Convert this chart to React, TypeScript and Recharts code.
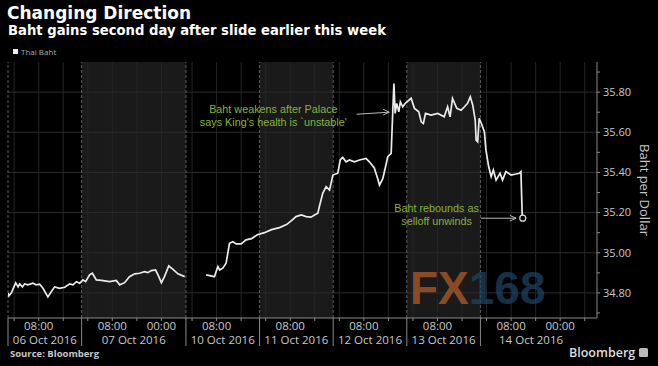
import React from 'react';
import { LineChart, Line, XAxis, YAxis, ReferenceArea, ReferenceLine, ReferenceDot } from 'recharts';

// x = trading hours (weekend compressed), 0 = 06 Oct 08:00
const hours = [
  -10, -9.7, -8.9, -7.5, -6.7, -6.2, -5.3, -4.6, -3.5, -1.9,
  -0.8, 0.3, 1.4, 3.0, 4.1, 5.2, 6.8, 8.5, 10.1, 11.2,
  12.3, 13.4, 14.4, 15.3, 16.6, 17.5, 18.8, 20.4, 23.1, 25.3,
  26.4, 28.0, 29.6, 31.3, 32.9, 34.5, 35.6, 36.7, 38.1, 38.9,
  40.0, 41.0, 42.4, 43.7, 45.4, 47.6,
  51,
  54.6, 57.3, 58.4, 59.0, 60.0, 61.1, 62.2, 63.3, 64.4, 66.0,
  67.6, 69.4, 71.3, 73.6, 75.9, 78.5, 80.8, 82.4, 83.9, 85.6,
  87.2, 88.8, 89.9, 91.0, 91.5, 92.6, 93.7, 94.8, 95.9, 97.5,
  98.3, 99.1, 100.2, 101.3, 102.9, 104.6, 106.7, 107.8, 109.4, 110.5,
  111.1, 112.2, 113.8, 114.9, 115.4, 115.8, 116.2, 116.7, 117.4, 117.9,
  118.7, 119.5, 121.4, 122.5, 123.9, 124.7, 125.4, 126.1, 127.9, 130.1,
  132.2, 133.3, 134.1, 134.9, 136.3, 137.7, 138.8, 139.8, 140.7, 141.5,
  142.3, 142.6, 143.1, 143.6, 144.5, 145.3, 145.8, 146.7, 147.5, 148.2,
  149.1, 150.4, 151.2, 152.3, 154.0, 155.6, 156.7, 157.2, 157.6, 157.8,
];

const baht: (number | null)[] = [
  34.80, 34.785, 34.80, 34.85, 34.83, 34.845, 34.83, 34.845, 34.84, 34.848,
  34.84, 34.843, 34.823, 34.78, 34.806, 34.83, 34.823, 34.828, 34.845, 34.84,
  34.856, 34.848, 34.865, 34.856, 34.89, 34.898, 34.865, 34.862, 34.856, 34.862,
  34.84, 34.851, 34.881, 34.895, 34.898, 34.906, 34.901, 34.911, 34.914, 34.89,
  34.851, 34.881, 34.934, 34.918, 34.895, 34.881,
  null,
  34.89, 34.881, 34.931, 34.914, 34.923, 34.948, 35.047, 35.055, 35.044, 35.044,
  35.064, 35.07, 35.09, 35.10, 35.115, 35.125, 35.14, 35.16, 35.18, 35.188,
  35.18, 35.177, 35.188, 35.197, 35.23, 35.296, 35.329, 35.312, 35.387, 35.396,
  35.462, 35.475, 35.453, 35.462, 35.453, 35.462, 35.47, 35.453, 35.422, 35.37,
  35.337, 35.37, 35.478, 35.495, 35.694, 35.843, 35.694, 35.744, 35.702, 35.752,
  35.727, 35.744, 35.769, 35.719, 35.702, 35.652, 35.644, 35.694, 35.686, 35.694,
  35.677, 35.727, 35.677, 35.769, 35.719, 35.71, 35.727, 35.744, 35.777, 35.735,
  35.66, 35.561, 35.553, 35.669, 35.636, 35.602, 35.511, 35.428, 35.379, 35.412,
  35.362, 35.396, 35.362, 35.404, 35.387, 35.392, 35.396, 35.404, 35.197, 35.172,
];

const dayBoundaries = [-10, 14, 48, 72, 96, 120, 144];
const shadedFrom = [14, 72, 120];
const shadedTo = [48, 96, 144];
const gridHours = [-8, 0, 8, 16, 24, 32, 40, 50, 58, 66, 74, 82, 90, 98, 106, 114, 122, 130, 138, 146, 154, 162, 170, 178];
const timeTicks = [0, 24, 40, 58, 82, 106, 130, 154, 170];
const timeLabels = ['08:00', '08:00', '00:00', '08:00', '08:00', '08:00', '08:00', '08:00', '00:00'];
const dateCenters = [2, 31, 60, 84, 108, 132, 160.5];
const dateLabels = ['06 Oct 2016', '07 Oct 2016', '10 Oct 2016', '11 Oct 2016', '12 Oct 2016', '13 Oct 2016', '14 Oct 2016'];
const yTicks = [34.7, 34.8, 34.9, 35.0, 35.1, 35.2, 35.3, 35.4, 35.5, 35.6, 35.7, 35.8, 35.9];
const yGrid = [34.8, 35.0, 35.2, 35.4, 35.6, 35.8];

const noteText = [
  ['Baht weakens after Palace', "says King's health is `unstable'"],
  ['Baht rebounds as', 'selloff unwinds'],
];
const noteH = [76.5, 129.7];
const noteV = [35.695, 35.203];
const arrowFromH = [103.6, 144.2];
const arrowFromV = [35.69, 35.172];
const arrowToH = [114.3, 155.6];
const arrowToV = [35.70, 35.172];

const data = hours.map((h, i) => ({ h, v: baht[i] }));
const allTicks = Array.from(new Set([...dayBoundaries, ...gridHours, ...timeTicks, ...dateCenters])).sort((a, b) => a - b);

const FONT = "'Open Sans', 'DejaVu Sans', sans-serif";
const HEAD = "'DejaVu Sans', 'Open Sans', sans-serif";
const NOTE = "'Liberation Sans', Arial, sans-serif";
const TXT = '#c8c8c8';
const GREEN = '#86b23a';

const XTick = (props: any) => {
  const { x, y, payload } = props;
  const v = payload.value;
  const ti = timeTicks.indexOf(v);
  const di = dateCenters.indexOf(v);
  return (
    <g>
      {dayBoundaries.includes(v) && <line x1={x} x2={x} y1={y} y2={y + 28} stroke="#8a8a8a" strokeWidth={1} />}
      {gridHours.includes(v) && <line x1={x} x2={x} y1={y} y2={y + 3} stroke="#8a8a8a" strokeWidth={1} />}
      {ti >= 0 && (
        <text x={x} y={y + 12} textAnchor="middle" fill={TXT} fontSize={11.5} fontFamily={FONT}>{timeLabels[ti]}</text>
      )}
      {di >= 0 && (
        <text x={x} y={y + 26} textAnchor="middle" fill={TXT} fontSize={11.5} fontFamily={FONT}>{dateLabels[di]}</text>
      )}
    </g>
  );
};

const yLabel = (props: any) => {
  const vb = props.viewBox;
  const cx = vb.x + 43;
  const cy = vb.y + vb.height / 2;
  return (
    <text x={cx} y={cy} transform={`rotate(90, ${cx}, ${cy})`} textAnchor="middle" fill={TXT} fontSize={13} fontFamily={FONT}>
      Baht per Dollar
    </text>
  );
};

const noteShape = (lines: string[]) => (p: any) => (
  <g>
    <text x={p.cx} y={p.cy} textAnchor="middle" fill={GREEN} fontSize={10.8} fontFamily={NOTE}>{lines[0]}</text>
    <text x={p.cx} y={p.cy + 12.6} textAnchor="middle" fill={GREEN} fontSize={10.8} fontFamily={NOTE}>{lines[1]}</text>
  </g>
);

export default function App() {
  const last = hours.length - 1;
  return (
    <div style={{ position: 'absolute', left: 0, top: 0, width: 658, height: 366, background: '#000', overflow: 'hidden' }}>
      <LineChart width={658} height={366} data={data} margin={{ top: 62, right: 0, bottom: 20, left: 8 }}>
        {shadedFrom.map((a, i) => (
          <ReferenceArea key={'s' + i} x1={a} x2={shadedTo[i]} fill="#1a1a1a" fillOpacity={1} stroke="none" />
        ))}
        {gridHours.map((g) => (
          <ReferenceLine key={'g' + g} x={g} stroke="#242424" strokeWidth={1} />
        ))}
        {yGrid.map((g) => (
          <ReferenceLine key={'y' + g} y={g} stroke="#2c2c2c" strokeWidth={1} />
        ))}
        {dayBoundaries.map((b) => (
          <ReferenceLine key={'b' + b} x={b} stroke="#5c5c5c" strokeDasharray="3 2" strokeWidth={1} />
        ))}
        <XAxis
          dataKey="h"
          type="number"
          domain={[-10, 182]}
          allowDataOverflow
          ticks={allTicks}
          interval={0}
          tickSize={0}
          tickMargin={0}
          tickLine={false}
          height={28}
          axisLine={{ stroke: '#8a8a8a' }}
          tick={<XTick />}
        />
        <YAxis
          orientation="right"
          type="number"
          domain={[34.675, 35.95]}
          allowDataOverflow
          ticks={yTicks}
          interval={0}
          width={61}
          tickSize={3}
          tickMargin={3}
          axisLine={{ stroke: '#8a8a8a' }}
          tickLine={{ stroke: '#8a8a8a' }}
          tick={{ fill: TXT, fontSize: 11, fontFamily: FONT }}
          tickFormatter={(v: number) => (Math.round(v * 10) % 2 === 0 ? v.toFixed(2) : '')}
          label={yLabel}
        />
        <Line
          type="linear"
          dataKey="v"
          stroke="#ebebeb"
          strokeWidth={1.7}
          dot={false}
          activeDot={false}
          connectNulls={false}
          isAnimationActive={false}
        />
        <ReferenceDot x={hours[last]} y={baht[last] as number} r={3} fill="#000" stroke="#dddddd" strokeWidth={1.2} />
        {arrowFromH.map((fh, i) => (
          <ReferenceLine
            key={'a' + i}
            segment={[{ x: fh, y: arrowFromV[i] }, { x: arrowToH[i], y: arrowToV[i] }]}
            stroke="#b8b8b8"
            strokeWidth={1}
          />
        ))}
        {arrowToH.map((th, i) => (
          <ReferenceLine
            key={'ah1' + i}
            segment={[{ x: th - 2, y: arrowToV[i] + 0.014 }, { x: th, y: arrowToV[i] }]}
            stroke="#b8b8b8"
            strokeWidth={1}
          />
        ))}
        {arrowToH.map((th, i) => (
          <ReferenceLine
            key={'ah2' + i}
            segment={[{ x: th - 2, y: arrowToV[i] - 0.014 }, { x: th, y: arrowToV[i] }]}
            stroke="#b8b8b8"
            strokeWidth={1}
          />
        ))}
        {noteH.map((nh, i) => (
          <ReferenceDot key={'n' + i} x={nh} y={noteV[i]} r={0} shape={noteShape(noteText[i])} />
        ))}
      </LineChart>
      <svg width={658} height={366} style={{ position: 'absolute', left: 0, top: 0, pointerEvents: 'none' }}>
        <text x={7} y={18.5} fill="#ffffff" fontSize={17} fontWeight={700} fontFamily={HEAD}>Changing Direction</text>
        <text x={8} y={34.5} fill="#ffffff" fontSize={13.2} fontWeight={700} fontFamily={HEAD}>Baht gains second day after slide earlier this week</text>
        <rect x={13} y={49} width={5} height={5} fill="#eeeeee" />
        <text x={21} y={55} fill="#aaaaaa" fontSize={8} fontFamily={FONT}>Thai Baht</text>
        <text x={410} y={304} fontSize={46} fontWeight={700} fontFamily="'Liberation Sans', Arial, sans-serif" opacity={0.7}>
          <tspan fill="#b8602c">FX</tspan>
          <tspan fill="#1e4569">168</tspan>
        </text>
        <text x={10} y={357} fill={TXT} fontSize={9.5} fontWeight={700} fontFamily={FONT}>Source: Bloomberg</text>
        <text x={569} y={357} fill="#dddddd" fontSize={12.5} fontWeight={600} fontFamily={FONT}>Bloomberg</text>
        <rect x={639} y={348} width={9} height={9} rx={1.5} fill="#bbbbbb" />
      </svg>
    </div>
  );
}
